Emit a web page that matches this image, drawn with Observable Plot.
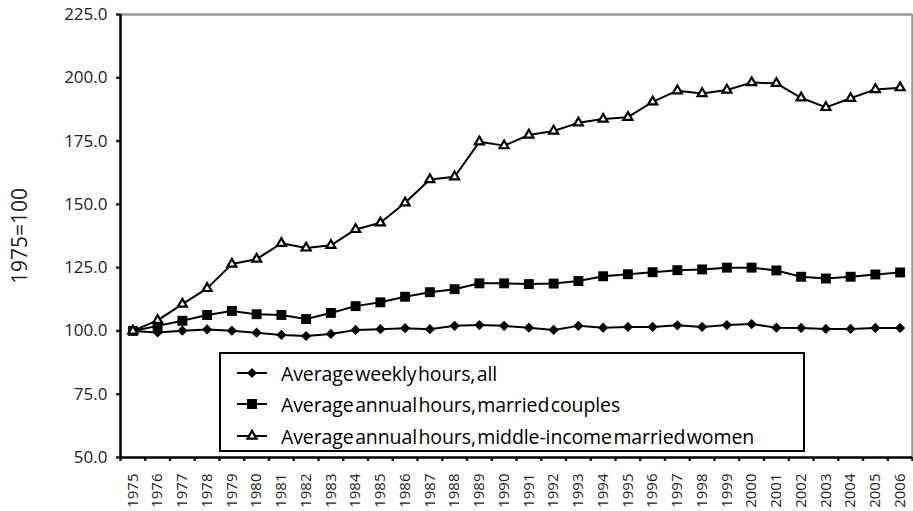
<!DOCTYPE html>
<html><head><meta charset="utf-8">
<script src="https://cdn.jsdelivr.net/npm/d3@7"></script>
<script src="https://cdn.jsdelivr.net/npm/@observablehq/plot@0.6"></script>
<style>
body{margin:0;background:#fff;}
#wrap{position:relative;width:913px;height:511px;font-family:"Open Sans",sans-serif;}
#legend{position:absolute;left:219px;top:352px;width:582px;height:96px;border:2px solid #000;background:#fff;}
.row{position:absolute;left:16px;height:30px;display:flex;align-items:center;font-size:19.5px;word-spacing:-3.5px;letter-spacing:-0.1px;color:#000;white-space:nowrap}
.row svg{margin-right:14px}
</style></head><body><div id="wrap"></div>
<script>
const years = [1975,1976,1977,1978,1979,1980,1981,1982,1983,1984,1985,1986,1987,1988,1989,1990,1991,1992,1993,1994,1995,1996,1997,1998,1999,2000,2001,2002,2003,2004,2005,2006];
const weeklyAll = [100.0,99.4,100.1,100.6,100.1,99.3,98.4,98.0,98.8,100.4,100.7,101.1,100.7,102.0,102.3,102.0,101.3,100.4,102.0,101.3,101.6,101.6,102.2,101.6,102.3,102.7,101.3,101.2,100.8,100.8,101.2,101.2];
const marriedCouples = [100.0,102.0,104.0,106.3,107.9,106.6,106.3,104.7,107.1,109.8,111.3,113.5,115.3,116.5,118.8,118.8,118.5,118.7,119.7,121.6,122.4,123.2,124.0,124.3,125.0,125.0,123.9,121.4,120.7,121.4,122.3,123.1];
const middleIncomeWomen = [100.0,104.2,110.6,116.8,126.4,128.4,134.6,132.8,133.8,140.1,142.7,150.6,159.8,160.9,174.7,173.2,177.4,179.0,182.2,183.7,184.4,190.5,194.9,193.8,195.2,198.1,197.8,192.1,188.3,191.9,195.4,196.1];
const seriesNames = ["Average weekly hours, all","Average annual hours, married couples","Average annual hours, middle-income married women"];
const seriesSymbols = ["diamond2","square","triangle2"];
const seriesR = [4.6,5.6,4.3];
const yTicks = [50,75,100,125,150,175,200,225];
const yLabel = "1975=100";

const seriesValues = [weeklyAll, marriedCouples, middleIncomeWomen];
const data = seriesValues.flatMap((vals,s)=>vals.map((v,i)=>({year:years[i], value:v, series:seriesNames[s], s})));
const boundaries = years.map(y=>y-0.5).concat([years[years.length-1]+0.5]);
const x0 = years[0]-0.5, x1 = years[years.length-1]+0.5;

const marks = [
  Plot.ruleY([yTicks[yTicks.length-1]], {stroke:"#999", strokeWidth:2.5}),
  Plot.ruleX([x1], {stroke:"#999", strokeWidth:2.5}),
  Plot.axisY({ticks:yTicks, tickFormat:d3.format(".1f"), tickSize:4, tickPadding:9, strokeWidth:2.5,
    label:null, fontSize:17, fill:"#222"}),
  Plot.text([yLabel], {frameAnchor:"left", textAnchor:"middle", rotate:-90, dx:-100, fontSize:21, fill:"#222"}),
  Plot.axisX({ticks:years, tickFormat:d=>String(d), tickSize:0, tickRotate:-90, tickPadding:16, label:null, fontSize:15, fill:"#222"}),
  Plot.axisX({ticks:boundaries, tickFormat:()=>"", tickSize:4, strokeWidth:2.5, label:null}),
  Plot.ruleX([x0], {stroke:"#000", strokeWidth:2.5}),
  Plot.ruleY([yTicks[0]], {stroke:"#000", strokeWidth:2.5}),
];
seriesNames.forEach((name,s)=>{
  const d = data.filter(e=>e.s===s);
  marks.push(Plot.line(d,{x:"year",y:"value",stroke:"#000",strokeWidth:2}));
  marks.push(Plot.dot(d,{x:"year",y:"value",symbol:()=>seriesSymbols[s],r:seriesR[s],
    fill: s===2?"#fff":"#000", stroke:"#000", strokeWidth: s===2?2.2:0}));
});

const chart = Plot.plot({
  width:913, height:511,
  marginLeft:120, marginRight:1, marginTop:14, marginBottom:54,
  style:{fontFamily:"Open Sans, sans-serif", fontSize:"16px", color:"#222", background:"#fff"},
  x:{domain:[x0,x1]},
  y:{domain:[yTicks[0], yTicks[yTicks.length-1]]},
  marks
});
document.getElementById("wrap").appendChild(chart);

// legend
const legend = document.createElement("div");
legend.id = "legend";
const rowTops = [4, 35, 67];
const symTypes = [d3.symbolDiamond2, d3.symbolSquare, d3.symbolTriangle2];
seriesNames.forEach((name,s)=>{
  const row = document.createElement("div");
  row.className = "row";
  row.style.top = rowTops[s]+"px";
  const svg = d3.create("svg").attr("width",30).attr("height",20);
  svg.append("line").attr("x1",0).attr("x2",30).attr("y1",10).attr("y2",10).attr("stroke","#000").attr("stroke-width",2);
  svg.append("path").attr("transform","translate(15,10)")
    .attr("d", d3.symbol(symTypes[s], Math.PI*seriesR[s]*seriesR[s])())
    .attr("fill", s===2?"#fff":"#000").attr("stroke","#000").attr("stroke-width", s===2?2.2:0);
  row.appendChild(svg.node());
  const span = document.createElement("span");
  span.textContent = name;
  row.appendChild(span);
  legend.appendChild(row);
});
document.getElementById("wrap").appendChild(legend);
</script></body></html>
